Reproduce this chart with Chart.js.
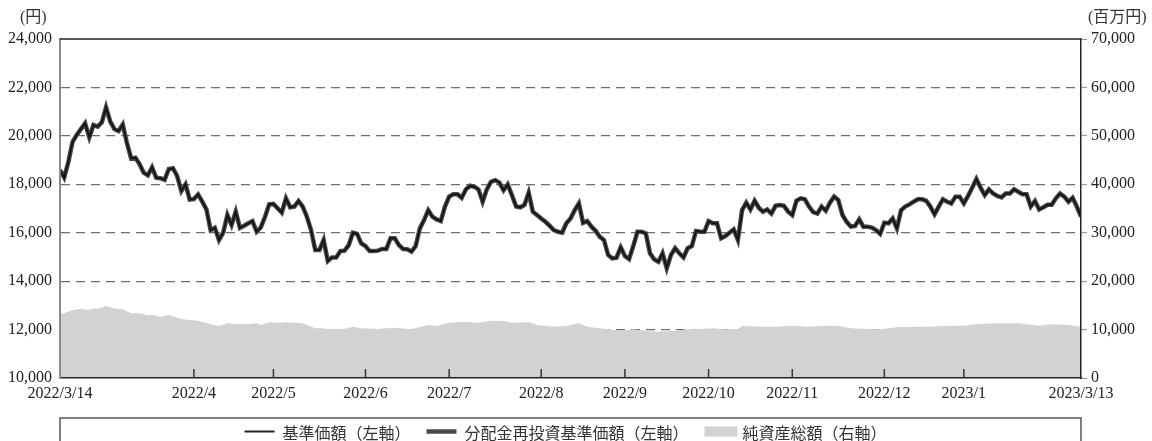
<!DOCTYPE html>
<html lang="ja">
<head>
<meta charset="utf-8">
<title>基準価額・純資産総額の推移</title>
<script src="https://cdn.jsdelivr.net/npm/chart.js@4.4.1/dist/chart.umd.min.js"></script>
<style>
  html, body { margin: 0; padding: 0; background: #fff; }
  #wrap { width: 1152px; height: 441px; position: relative; }
</style>
</head>
<body>
<div id="wrap"><canvas id="navChart"></canvas></div>
<script>
// daily NAV (円), 2022/3/14 .. 2023/3/13
const navValues = [
  18590, 18280, 18920, 19750, 20040, 20280, 20520, 19940, 20450, 20380,
  20560, 21180, 20600, 20280, 20200, 20470, 19700, 19070, 19100, 18840,
  18480, 18370, 18700, 18270, 18250, 18180, 18630, 18660, 18340, 17720,
  18000, 17370, 17390, 17580, 17280, 16960, 16100, 16200, 15700, 16000,
  16730, 16320, 16870, 16200, 16290, 16390, 16480, 16040, 16220, 16660,
  17170, 17190, 17010, 16830, 17420, 17050, 17080, 17310, 17080,
  16660, 16110, 15290, 15290, 15700, 14830, 14980, 14980, 15240, 15260,
  15490, 16000, 15950, 15560, 15450, 15240, 15240, 15260, 15330, 15330,
  15770, 15770, 15490, 15330, 15320, 15220, 15450, 16180, 16520, 16930,
  16660, 16550, 16480, 17080, 17490, 17590, 17590, 17440, 17790, 17940,
  17900, 17790, 17280, 17790, 18100, 18170, 18070, 17750, 17990, 17550,
  17080, 17050, 17150, 17660, 16870, 16730, 16590, 16450, 16290, 16110,
  16040,
  16000, 16390, 16590, 16930, 17210, 16410, 16480, 16250, 16080, 15830,
  15700, 15080, 14940, 14970, 15400, 15040, 14910, 15450, 16040, 16040,
  15970, 15150, 14900, 14800, 15150, 14530, 15080, 15360, 15150, 14980,
  15360, 15450, 16070, 16040, 16040, 16480, 16390, 16390, 15770, 15860,
  16000, 16140, 15700, 16930, 17240, 16960, 17320, 17030, 16870, 16960,
  16790, 17110, 17140, 17110, 16870, 16730, 17320, 17420, 17380, 17080,
  16850, 16790, 17080, 16910, 17240, 17490, 17350,
  16730, 16450, 16250, 16280, 16550, 16250, 16250, 16210, 16110, 15950,
  16410, 16390, 16590, 16180, 16930, 17080, 17170, 17280, 17380, 17380,
  17320, 17080, 16760, 17080, 17380, 17280, 17210, 17490, 17490, 17210,
  17520, 17860, 18220, 17860, 17550, 17790, 17620, 17520, 17460, 17620,
  17620, 17790, 17690, 17590, 17590, 17080, 17310, 16960, 17050, 17150,
  17150, 17420, 17620, 17490, 17280, 17440, 17080, 16660
];
// no distributions were paid, so the reinvested NAV is the same line
const reinvestValues = navValues;

// net assets (百万円), read at these day numbers
const assetDays = [
  0, 1, 3, 5, 7, 8, 9, 11, 13, 15, 17, 19, 21, 22, 24, 26, 29, 31, 33, 36,
  38, 40, 42, 45, 47, 48, 50, 53, 54, 56, 58, 61, 63, 64, 68, 70, 72, 76, 78, 80,
  84, 88, 90, 93, 97, 100, 103, 106, 108, 112, 114, 118, 121, 124, 126, 131, 134, 137, 140, 143,
  147, 150, 153, 156, 159, 162, 163, 167, 171, 175, 179, 183, 186, 189, 193, 196, 200, 205, 208, 212,
  216, 219, 223, 229, 234, 237, 241, 244
];
const assetValues = [
  13150, 13360, 14040, 14310, 14040, 14380, 14310, 14870, 14310, 14180, 13360, 13360, 12950, 13010, 12660, 13010, 12180, 11980, 11830, 11090,
  10740, 11290, 11150, 11090, 11290, 10950, 11500, 11420, 11500, 11420, 11290, 10260, 10260, 10050, 10190, 10600, 10260, 10120, 10260, 10400,
  10050, 10950, 10740, 11420, 11630, 11420, 11830, 11770, 11420, 11500, 10950, 10600, 10740, 11290, 10600, 10050, 9770, 10050, 9770, 9570,
  9770, 10050, 10120, 10260, 10050, 10120, 10740, 10600, 10600, 10810, 10600, 10810, 10810, 10260, 10120, 10050, 10470, 10600, 10600, 10810,
  10810, 11090, 11290, 11290, 10810, 11090, 10950, 10600
];

// x axis labels and the day numbers they sit on
const tickDays = [0, 32, 51, 73, 93, 115, 135, 155, 175, 197, 216, 244];
const tickLabels = ['2022/3/14', '2022/4', '2022/5', '2022/6', '2022/7', '2022/8',
  '2022/9', '2022/10', '2022/11', '2022/12', '2023/1', '2023/3/13'];

const SERIF = '"Liberation Serif", "Noto Sans CJK JP", serif';
const JP = '"Noto Sans CJK JP", sans-serif';

// frame, inward month ticks, unit labels and the boxed legend
const framePlugin = {
  id: 'frame',
  afterDraw(chart) {
    const { ctx, chartArea: a, scales } = chart;
    ctx.save();

    // top border
    ctx.strokeStyle = '#222';
    ctx.lineWidth = 1.5;
    ctx.beginPath();
    ctx.moveTo(a.left, a.top);
    ctx.lineTo(a.right, a.top);
    ctx.stroke();

    // month ticks pointing up from the x axis
    ctx.strokeStyle = '#333';
    ctx.lineWidth = 1.5;
    tickDays.slice(1, -1).forEach(d => {
      const x = scales.x.getPixelForValue(d);
      ctx.beginPath();
      ctx.moveTo(x, a.bottom);
      ctx.lineTo(x, a.bottom - 9);
      ctx.stroke();
    });

    // unit labels
    ctx.fillStyle = '#333';
    ctx.font = '16px ' + SERIF;
    ctx.textBaseline = 'middle';
    ctx.textAlign = 'left';
    ctx.fillText('(円)', 20, 18);
    ctx.fillText('(百万円)', 1088, 18);

    // legend box
    ctx.strokeStyle = '#555';
    ctx.lineWidth = 1.5;
    ctx.strokeRect(a.left, 418, a.right - a.left, 40);

    ctx.font = '16px ' + JP;
    const sample = 30, gap = 8, itemGap = 16;
    const items = chart.data.datasets.map(ds => ({ ds, w: ctx.measureText(ds.label).width }));
    const total = items.reduce((s, it) => s + sample + gap + it.w, 0) + itemGap * (items.length - 1);
    let x = (a.left + a.right) / 2 - 5 - total / 2;
    const y = 431.5;
    items.forEach(({ ds, w }) => {
      if (ds.fill) {
        ctx.fillStyle = ds.backgroundColor;
        ctx.fillRect(x, y - 5, sample + 3, 10);
      } else {
        ctx.strokeStyle = ds.legendColor;
        ctx.lineWidth = ds.legendWidth;
        ctx.beginPath();
        ctx.moveTo(x, y);
        ctx.lineTo(x + sample, y);
        ctx.stroke();
      }
      ctx.fillStyle = '#333';
      ctx.fillText(ds.label, x + sample + gap, y + 1);
      x += sample + gap + w + itemGap;
    });

    ctx.restore();
  }
};

new Chart(document.getElementById('navChart'), {
  type: 'line',
  data: {
    datasets: [
      {
        label: '基準価額（左軸）',
        data: navValues.map((v, i) => ({ x: i, y: v })),
        borderColor: '#151515',
        borderWidth: 2,
        legendColor: '#222',
        legendWidth: 2,
        pointRadius: 0,
        fill: false,
        yAxisID: 'y'
      },
      {
        label: '分配金再投資基準価額（左軸）',
        data: reinvestValues.map((v, i) => ({ x: i, y: v })),
        borderColor: '#4a4a4a',
        borderWidth: 4.5,
        legendColor: '#4a4a4a',
        legendWidth: 4.5,
        pointRadius: 0,
        fill: false,
        yAxisID: 'y'
      },
      {
        label: '純資産総額（右軸）',
        data: assetDays.map((d, i) => ({ x: d, y: assetValues[i] })),
        borderWidth: 0,
        borderColor: 'rgba(0,0,0,0)',
        backgroundColor: '#d1d2d4',
        pointRadius: 0,
        fill: 'origin',
        yAxisID: 'y1'
      }
    ]
  },
  options: {
    responsive: true,
    maintainAspectRatio: false,
    animation: false,
    layout: { padding: { top: 39, bottom: 23 } },
    plugins: {
      legend: { display: false },
      tooltip: { enabled: false }
    },
    scales: {
      x: {
        type: 'linear',
        min: 0,
        max: navValues.length - 1,
        grid: { display: false, drawTicks: false },
        border: { color: '#222', width: 1.5, z: 1 },
        afterBuildTicks: axis => { axis.ticks = tickDays.map(v => ({ value: v })); },
        afterFit: axis => { axis.height = 40; },
        ticks: {
          autoSkip: false,
          maxRotation: 0,
          padding: 6,
          color: '#222',
          font: { family: SERIF, size: 16 },
          callback: v => tickLabels[tickDays.indexOf(v)]
        }
      },
      y: {
        position: 'left',
        min: 10000,
        max: 24000,
        afterFit: axis => { axis.width = 60; },
        ticks: {
          stepSize: 2000,
          padding: 8,
          color: '#222',
          font: { family: SERIF, size: 16 },
          callback: v => v.toLocaleString('en-US')
        },
        grid: {
          drawTicks: false,
          lineWidth: 1.2,
          color: c => (c.tick.value === 10000 || c.tick.value === 24000) ? 'rgba(0,0,0,0)' : '#6e6e6e'
        },
        border: { color: '#8a8a8a', width: 2, dash: [9, 6], z: 1 }
      },
      y1: {
        position: 'right',
        min: 0,
        max: 70000,
        afterFit: axis => { axis.width = 71; },
        ticks: {
          stepSize: 10000,
          padding: 4,
          color: '#222',
          font: { family: SERIF, size: 16 },
          callback: v => v.toLocaleString('en-US')
        },
        grid: { drawOnChartArea: false, tickLength: 6, tickColor: '#999', tickWidth: 1.2 },
        border: { color: '#222', width: 1.5, z: 1 }
      }
    }
  },
  plugins: [framePlugin]
});
</script>
</body>
</html>
